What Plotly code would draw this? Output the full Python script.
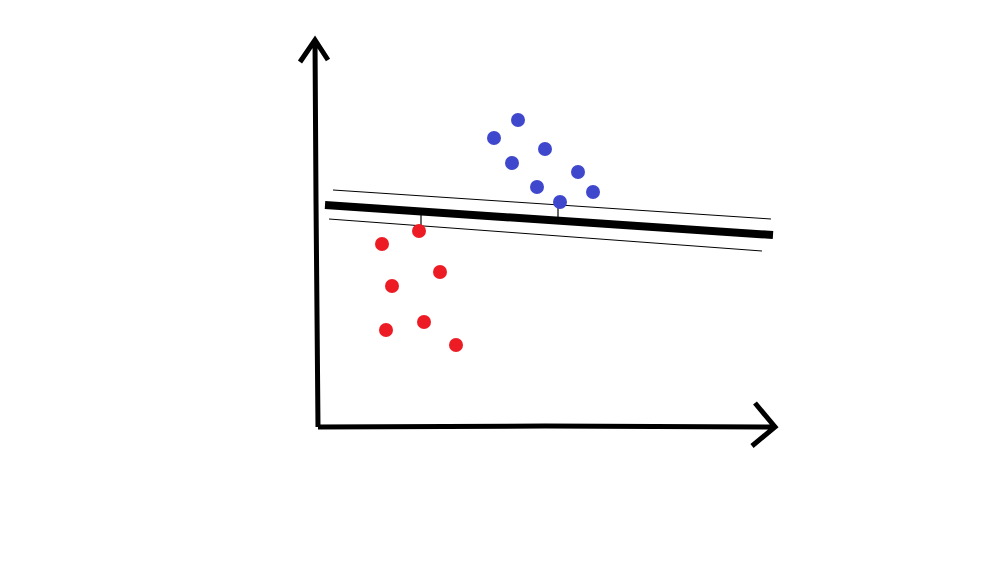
import plotly.graph_objects as go

# Class points (hand-drawn sketch coordinates)
blue_x = [494, 518, 512, 545, 578, 537, 593, 560]
blue_y = [138, 120, 163, 149, 172, 187, 192, 202]
red_x = [382, 419, 440, 392, 386, 424, 456]
red_y = [244, 231, 272, 286, 330, 322, 345]

# Decision boundary and margins
boundary_x = [325, 773]
boundary_y = [205, 235]
upper_margin_x = [333, 771]
upper_margin_y = [190, 219]
lower_margin_x = [329, 762]
lower_margin_y = [219, 251]

# Support vector distance ticks
sv_red_x = [421, 421]
sv_red_y = [214, 226]
sv_blue_x = [558, 558]
sv_blue_y = [207, 217]

# Axes (with arrowheads)
yaxis_x = [300, 315, 328, 315, 316, 318]
yaxis_y = [62, 40, 60, 40, 200, 427]
xaxis_x = [318, 545, 775, 755, 775, 752]
xaxis_y = [427, 426, 427, 403, 427, 446]

BLUE = "#3F48CC"
RED = "#ED1C24"

fig = go.Figure()
fig.add_trace(go.Scatter(x=yaxis_x, y=yaxis_y, mode="lines",
                         line=dict(color="black", width=5), hoverinfo="skip"))
fig.add_trace(go.Scatter(x=xaxis_x, y=xaxis_y, mode="lines",
                         line=dict(color="black", width=5), hoverinfo="skip"))
fig.add_trace(go.Scatter(x=upper_margin_x, y=upper_margin_y, mode="lines",
                         line=dict(color="black", width=1)))
fig.add_trace(go.Scatter(x=lower_margin_x, y=lower_margin_y, mode="lines",
                         line=dict(color="black", width=1)))
fig.add_trace(go.Scatter(x=boundary_x, y=boundary_y, mode="lines",
                         line=dict(color="black", width=8)))
fig.add_trace(go.Scatter(x=sv_red_x, y=sv_red_y, mode="lines",
                         line=dict(color="black", width=1.2)))
fig.add_trace(go.Scatter(x=sv_blue_x, y=sv_blue_y, mode="lines",
                         line=dict(color="black", width=1.2)))
fig.add_trace(go.Scatter(x=blue_x, y=blue_y, mode="markers",
                         marker=dict(color=BLUE, size=14, line=dict(width=0))))
fig.add_trace(go.Scatter(x=red_x, y=red_y, mode="markers",
                         marker=dict(color=RED, size=14, line=dict(width=0))))

# Page body has an 8px default margin; offset ranges so sketch coords map to window pixels
fig.update_layout(
    width=989, height=569,
    margin=dict(l=0, r=0, t=0, b=0),
    paper_bgcolor="white", plot_bgcolor="white",
    showlegend=False,
    xaxis=dict(range=[8, 997], visible=False, fixedrange=True),
    yaxis=dict(range=[577, 8], visible=False, fixedrange=True),
)
fig.write_html("out.html")
